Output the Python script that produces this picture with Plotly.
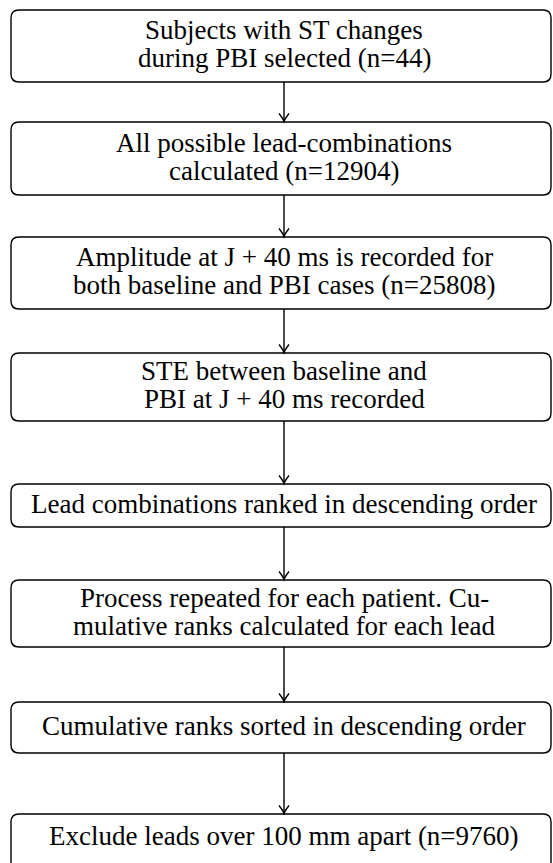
import plotly.graph_objects as go

# Flowchart content (one entry per box, lines separated by "\n")
steps = [
    "Subjects with ST changes\nduring PBI selected (n=44)",
    "All possible lead-combinations\ncalculated (n=12904)",
    "Amplitude at J + 40 ms is recorded for\nboth baseline and PBI cases (n=25808)",
    "STE between baseline and\nPBI at J + 40 ms recorded",
    "Lead combinations ranked in descending order",
    "Process repeated for each patient. Cu-\nmulative ranks calculated for each lead",
    "Cumulative ranks sorted in descending order",
    "Exclude leads over 100 mm apart (n=9760)",
]

# Layout (pixel coordinates): box top / bottom edges
box_top = [10, 122, 237, 353, 484, 580, 702, 814]
box_bot = [82, 195, 309, 421, 527, 647, 753, 890]
box_left, box_right = 11, 551
content_x = 284
radius = 8
line_gap = 28
font_size = 27
text_shift = -2

W, H = 553, 863
fig = go.Figure()

def rounded_rect(x0, y0, x1, y1, r):
    return (f"M {x0+r},{y0} L {x1-r},{y0} Q {x1},{y0} {x1},{y0+r} "
            f"L {x1},{y1-r} Q {x1},{y1} {x1-r},{y1} L {x0+r},{y1} "
            f"Q {x0},{y1} {x0},{y1-r} L {x0},{y0+r} Q {x0},{y0} {x0+r},{y0} Z")

shapes = []
annotations = []
for i, label in enumerate(steps):
    t, b = box_top[i], box_bot[i]
    shapes.append(dict(type="path", path=rounded_rect(box_left, t, box_right, b, radius),
                       line=dict(color="black", width=1.4), xref="x", yref="y"))
    lines = label.split("\n")
    cy = ((t + b) / 2 if i < len(steps) - 1 else t + 24) + text_shift
    for k, ln in enumerate(lines):
        ly = cy + (k - (len(lines) - 1) / 2) * line_gap
        annotations.append(dict(x=content_x, y=ly, xref="x", yref="y", text=ln, showarrow=False,
                                font=dict(family="Liberation Serif", size=font_size, color="black"),
                                align="center", xanchor="center", yanchor="middle"))
    if i < len(steps) - 1:
        y0, y1 = b, box_top[i + 1] - 0.5
        shapes.append(dict(type="line", x0=content_x, x1=content_x, y0=y0, y1=y1,
                           line=dict(color="black", width=1.4), xref="x", yref="y"))
        shapes.append(dict(type="path",
                           path=(f"M {content_x-5},{y1-8} Q {content_x-1},{y1-3} {content_x},{y1} "
                                 f"Q {content_x+1},{y1-3} {content_x+5},{y1-8}"),
                           line=dict(color="black", width=1.4), xref="x", yref="y"))

fig.update_layout(
    width=W, height=H,
    margin=dict(l=0, r=0, t=0, b=0),
    paper_bgcolor="white", plot_bgcolor="white",
    xaxis=dict(range=[0, W], visible=False, fixedrange=True),
    yaxis=dict(range=[H, 0], visible=False, fixedrange=True),
    shapes=shapes, annotations=annotations, showlegend=False,
)
fig.write_html("out.html", config={"displayModeBar": False},
               post_script="document.body.style.margin='0';document.body.style.overflow='hidden';")
